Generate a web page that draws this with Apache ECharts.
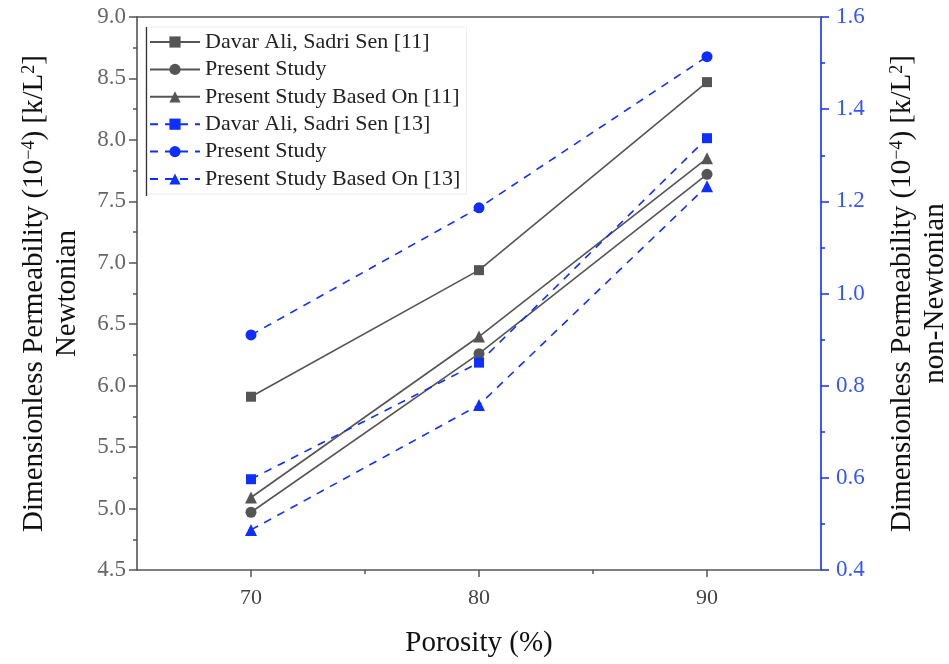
<!DOCTYPE html>
<html>
<head>
<meta charset="utf-8">
<script src="https://cdn.jsdelivr.net/npm/echarts@6/dist/echarts.min.js"></script>
<style>html,body{margin:0;padding:0;background:#fff;}#c{width:949px;height:664px;}</style>
</head>
<body>
<div id="c"></div>
<script>
// ---- data ----
var porosity = [70, 80, 90];
var newtDavar = [5.91, 6.94, 8.47];
var newtPresent = [4.97, 6.26, 7.72];
var newtBased = [5.09, 6.40, 7.85];
var nonNewtDavar = [0.597, 0.85, 1.337];
var nonNewtPresent = [0.91, 1.186, 1.514];
var nonNewtBased = [0.487, 0.758, 1.233];
var xMajorTicks = [70, 80, 90];
var xMinorTicks = [75, 85];
var seriesNames = ['Davar Ali, Sadri Sen [11]', 'Present Study', 'Present Study Based On [11]',
                   'Davar Ali, Sadri Sen [13]', 'Present Study', 'Present Study Based On [13]'];

var FONT = 'Liberation Serif';
var GRAY = '#555555';
var BLUE = '#0f2fff';

function pairs(xs, ys){ return xs.map(function(x,i){ return [x, ys[i]]; }); }

function mk(idx, data, yIdx, symbol, color, dashed, size){
  return {
    name: seriesNames[idx] + '#' + idx,
    type: 'line',
    xAxisIndex: 0,
    yAxisIndex: yIdx,
    data: pairs(porosity, data),
    symbol: symbol,
    symbolSize: size,
    showSymbol: true,
    lineStyle: { color: color, width: 1.6, type: dashed ? [8, 7] : 'solid' },
    itemStyle: { color: color },
    emphasis: { disabled: true },
    animation: false,
    z: dashed ? 3 : 2
  };
}

var chart = echarts.init(document.getElementById('c'), null, {renderer: 'canvas'});
var titleRich = {
  a: { fontFamily: FONT, fontSize: 29, color: '#111', lineHeight: 33 },
  s: { fontFamily: FONT, fontSize: 18, color: '#111', verticalAlign: 'bottom', padding: [0, 0, 13, 0], lineHeight: 18 }
};
var titleText = '{a|Dimensionless Permeability (10}{s|−4}{a|) [k/L}{s|2}{a|]}\n{a|';

chart.setOption({
  backgroundColor: '#fff',
  animation: false,
  grid: { left: 137, right: 128, top: 17, bottom: 94, containLabel: false, outerBoundsMode: 'none' },
  legend: {
    orient: 'vertical',
    left: 146, top: 27,
    padding: [3, 6, 3, 3],
    itemGap: 3.4,
    itemWidth: 50,
    itemHeight: 14,
    backgroundColor: '#ffffff',
    borderColor: '#ececec',
    borderWidth: 1,
    borderRadius: 0,
    selectedMode: false,
    z: 10,
    textStyle: { fontFamily: FONT, fontSize: 22, color: '#222', lineHeight: 24 },
    formatter: function(n){ return n.replace(/#\d+$/, ''); },
    data: seriesNames.map(function(n, i){ return n + '#' + i; })
  },
  graphic: [{
    type: 'line', z: 20,
    shape: { x1: 146.5, y1: 27, x2: 146.5, y2: 196 },
    style: { stroke: '#333', lineWidth: 1.3 }
  }],
  xAxis: [{
    type: 'value', min: 65, max: 95, interval: 5,
    position: 'bottom',
    name: 'Porosity (%)', nameLocation: 'middle', nameGap: 59,
    nameTextStyle: { fontFamily: FONT, fontSize: 29, color: '#111' },
    axisLine: { show: true, onZero: false, lineStyle: { color: GRAY, width: 1.6 } },
    axisTick: { show: true, customValues: xMajorTicks, length: 7, inside: false, lineStyle: { color: GRAY, width: 1.5 } },
    axisLabel: { customValues: xMajorTicks, margin: 17, fontFamily: FONT, fontSize: 22, color: '#444' },
    splitLine: { show: false }
  }, {
    type: 'value', min: 65, max: 95, interval: 5,
    position: 'bottom',
    axisLine: { show: false, onZero: false },
    axisTick: { show: true, customValues: xMinorTicks, length: 4, lineStyle: { color: GRAY, width: 1.5 } },
    axisLabel: { show: false },
    splitLine: { show: false }
  }, {
    type: 'value', min: 65, max: 95, interval: 5,
    position: 'top',
    axisLine: { show: true, onZero: false, lineStyle: { color: GRAY, width: 1.6 } },
    axisTick: { show: false },
    axisLabel: { show: false },
    splitLine: { show: false }
  }],
  yAxis: [{
    type: 'value', min: 4.5, max: 9.0, interval: 0.5,
    position: 'left',
    name: titleText + 'Newtonian}', nameLocation: 'middle', nameGap: 53,
    nameTextStyle: { rich: titleRich, align: 'center' },
    axisLine: { show: true, onZero: false, lineStyle: { color: GRAY, width: 1.6 } },
    axisTick: { show: true, length: 8, lineStyle: { color: GRAY, width: 1.5 } },
    minorTick: { show: true, splitNumber: 2, length: 4, lineStyle: { color: GRAY, width: 1.5 } },
    axisLabel: { margin: 11, fontFamily: FONT, fontSize: 23, color: '#666', formatter: function(v){ return v.toFixed(1); } },
    splitLine: { show: false }
  }, {
    type: 'value', min: 0.4, max: 1.6, interval: 0.2,
    position: 'right',
    name: titleText + 'non-Newtonian}', nameLocation: 'middle', nameGap: 65,
    nameTextStyle: { rich: titleRich, align: 'center' },
    axisLine: { show: true, onZero: false, lineStyle: { color: BLUE, width: 1.6 } },
    axisTick: { show: true, length: 8, lineStyle: { color: BLUE, width: 1.5 } },
    minorTick: { show: true, splitNumber: 2, length: 4, lineStyle: { color: BLUE, width: 1.5 } },
    axisLabel: { margin: 15, fontFamily: FONT, fontSize: 23, color: '#3355ff', formatter: function(v){ return v.toFixed(1); } },
    splitLine: { show: false }
  }],
  series: [
    mk(0, newtDavar, 0, 'rect', GRAY, false, 10),
    mk(1, newtPresent, 0, 'circle', GRAY, false, 11),
    mk(2, newtBased, 0, 'triangle', GRAY, false, 12),
    mk(3, nonNewtDavar, 1, 'rect', BLUE, true, 10),
    mk(4, nonNewtPresent, 1, 'circle', BLUE, true, 11),
    mk(5, nonNewtBased, 1, 'triangle', BLUE, true, 12)
  ]
});
</script>
</body>
</html>
